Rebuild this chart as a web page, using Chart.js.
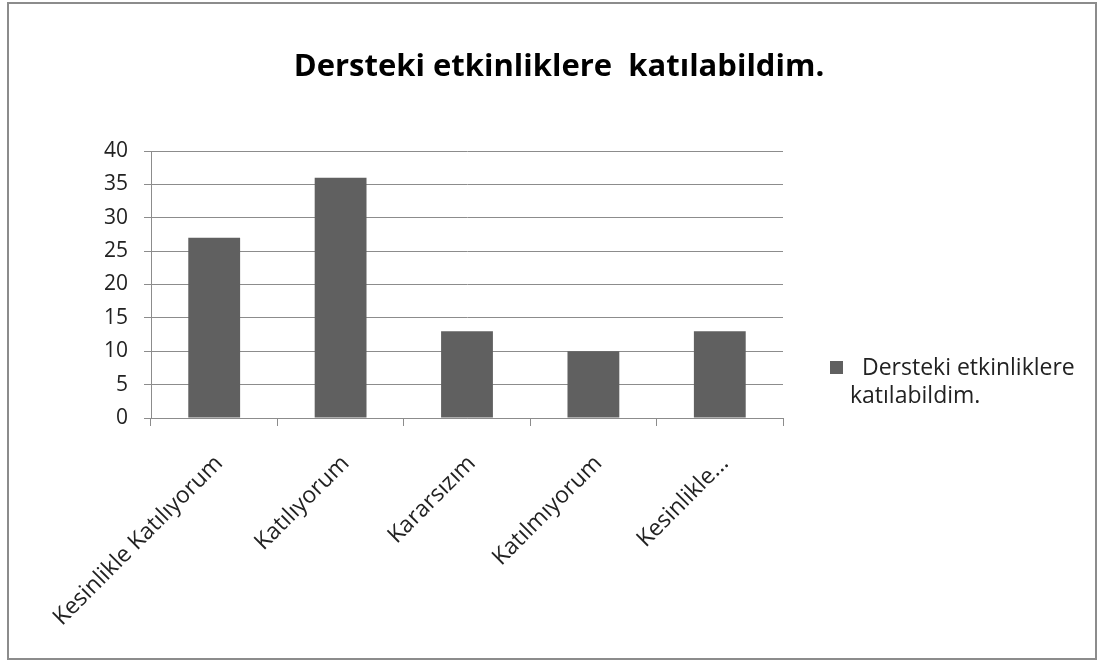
<!DOCTYPE html>
<html>
<head>
<meta charset="utf-8">
<script src="https://cdn.jsdelivr.net/npm/chart.js@4.4.0/dist/chart.umd.min.js"></script>
<style>
  html, body { margin: 0; padding: 0; background: #fff; }
  #frame {
    position: absolute; left: 7px; top: 2px; width: 1086px; height: 654px;
    border: 2px solid #8c8c8c;
  }
  #wrap { position: absolute; left: 0; top: 0; width: 1102px; height: 661px; }
</style>
</head>
<body>
<div id="frame"></div>
<div id="wrap"><canvas id="barChart"></canvas></div>
<script>
// data
const categories = [
  "Kesinlikle Katılıyorum",
  "Katılıyorum",
  "Kararsızım",
  "Katılmıyorum",
  "Kesinlikle...",
];
const seriesName = "Dersteki etkinliklere katılabildim.";
const seriesValues = [27, 36, 13, 10, 13];
const chartTitle = "Dersteki etkinliklere  katılabildim.";
const legendLines = ["Dersteki etkinliklere", "katılabildim."];

const FONT = "'Open Sans', Lato, sans-serif";

// title sits over the whole frame, not only the plot, so draw it here
const frameTitle = {
  id: "frameTitle",
  afterDraw(chart) {
    const c = chart.ctx;
    c.save();
    c.fillStyle = "#000";
    c.font = "bold 31px " + FONT;
    c.textAlign = "center";
    c.textBaseline = "middle";
    c.fillText(chartTitle, 559, 67);
    c.restore();
  },
};

// little legend on the right, like the original
const sideLegend = {
  id: "sideLegend",
  afterDraw(chart) {
    const c = chart.ctx;
    const ds = chart.data.datasets[0];
    const area = chart.chartArea;
    const x = area.right + 47;
    const y = 361;
    c.save();
    c.fillStyle = ds.backgroundColor;
    c.fillRect(x, y, 13, 13);
    c.fillStyle = "#222";
    c.font = "23px " + FONT;
    c.textBaseline = "middle";
    c.fillText(legendLines[0], x + 32, y + 7);
    c.fillText(legendLines[1], x + 20, y + 35);
    c.restore();
  },
};

const ctx = document.getElementById("barChart").getContext("2d");
new Chart(ctx, {
  type: "bar",
  data: {
    labels: categories,
    datasets: [
      {
        label: seriesName,
        data: seriesValues,
        backgroundColor: "#606060",
        borderWidth: 0,
        barPercentage: 0.41,
        categoryPercentage: 1,
      },
    ],
  },
  options: {
    responsive: true,
    maintainAspectRatio: false,
    animation: false,
    layout: { padding: { top: 151, right: 319, bottom: 0, left: 0 } },
    plugins: {
      legend: { display: false },
      tooltip: { enabled: false },
      title: { display: false },
    },
    scales: {
      x: {
        afterFit(scale) { scale.height = 243; },
        grid: {
          display: true,
          drawOnChartArea: false,
          tickLength: 8,
          color: "#8c8c8c",
        },
        border: { color: "#8c8c8c" },
        ticks: {
          color: "#222",
          font: { family: FONT, size: 23 },
          minRotation: 45,
          maxRotation: 45,
          autoSkip: false,
          labelOffset: 5,
          padding: 24,
        },
      },
      y: {
        min: 0,
        max: 40,
        afterFit(scale) { scale.width = 151; },
        grid: { color: "#8c8c8c", tickLength: 7 },
        border: { color: "#8c8c8c" },
        ticks: {
          stepSize: 5,
          color: "#222",
          padding: 16,
          font: { family: FONT, size: 21 },
        },
      },
    },
  },
  plugins: [frameTitle, sideLegend],
});
</script>
</body>
</html>
